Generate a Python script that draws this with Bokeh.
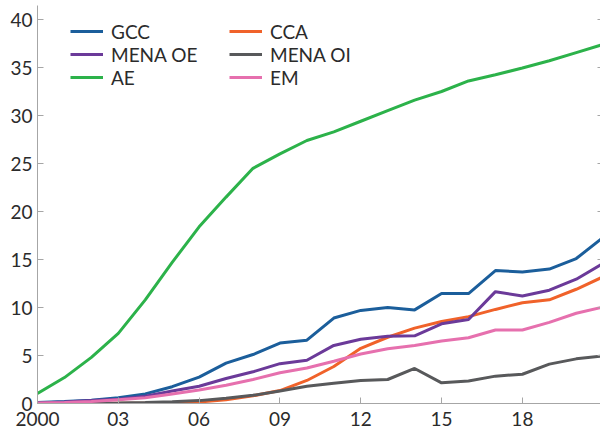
from bokeh.plotting import figure
from bokeh.models import Range1d, FixedTicker, LinearAxis, Legend, LegendItem
from bokeh.embed import file_html
from bokeh.resources import INLINE

years = list(range(2000, 2022))
gcc = [0.1, 0.2, 0.35, 0.6, 1.0, 1.75, 2.75, 4.2, 5.1, 6.3, 6.6, 8.9, 9.7, 10.0, 9.75, 11.45, 11.45, 13.85, 13.7, 14.0, 15.1, 17.3]
cca = [0.0, 0.0, 0.0, 0.02, 0.03, 0.05, 0.15, 0.4, 0.8, 1.35, 2.4, 3.85, 5.75, 6.9, 7.85, 8.55, 9.05, 9.8, 10.5, 10.8, 11.9, 13.2]
mena_oe = [0.05, 0.15, 0.3, 0.45, 0.75, 1.3, 1.8, 2.6, 3.3, 4.15, 4.5, 6.05, 6.7, 7.0, 7.05, 8.3, 8.75, 11.65, 11.2, 11.8, 12.95, 14.6]
mena_oi = [0.0, 0.0, 0.02, 0.05, 0.1, 0.18, 0.3, 0.55, 0.85, 1.3, 1.8, 2.1, 2.4, 2.5, 3.65, 2.15, 2.35, 2.85, 3.05, 4.1, 4.65, 4.95]
ae = [1.05, 2.7, 4.8, 7.3, 10.8, 14.7, 18.4, 21.5, 24.5, 26.0, 27.4, 28.3, 29.4, 30.5, 31.6, 32.5, 33.6, 34.25, 34.95, 35.7, 36.55, 37.4]
em = [0.05, 0.1, 0.2, 0.4, 0.6, 1.0, 1.4, 1.9, 2.5, 3.2, 3.7, 4.4, 5.15, 5.7, 6.05, 6.5, 6.85, 7.65, 7.65, 8.45, 9.4, 10.05]

series_names = ["GCC", "CCA", "MENA OE", "MENA OI", "AE", "EM"]
series_values = [gcc, cca, mena_oe, mena_oi, ae, em]
series_colors = ["#1b5e9b", "#f0622a", "#6b3a99", "#58595b", "#2cb24a", "#e670ae"]

x_ticks = [2000, 2003, 2006, 2009, 2012, 2015, 2018]
x_tick_labels = ["2000", "03", "06", "09", "12", "15", "18"]
y_ticks = [0, 5, 10, 15, 20, 25, 30, 35, 40]

FONT = "Lato"
TXT = "#2b2b2b"
AX = "#a6a6a6"

p = figure(width=600, height=434, output_backend="svg", toolbar_location=None,
           x_range=Range1d(2000, 2020.9), y_range=Range1d(0, 41.46),
           min_border_left=37, min_border_right=0, min_border_top=5, min_border_bottom=31)
p.outline_line_color = None
p.xgrid.visible = False
p.ygrid.visible = False

renderers = {}
for name, vals, col in zip(series_names, series_values, series_colors):
    renderers[name] = p.line(years, vals, line_color=col, line_width=3)

for ax in (p.xaxis[0], p.yaxis[0]):
    ax.axis_line_color = AX
    ax.major_tick_line_color = AX
    ax.major_tick_in = 6
    ax.major_tick_out = 0
    ax.minor_tick_in = 0
    ax.minor_tick_out = 0
    ax.minor_tick_line_color = None
    ax.axis_label_standoff = 0
    ax.major_label_text_font = FONT
    ax.major_label_text_font_size = "19px"
    ax.major_label_text_color = TXT

p.xaxis[0].ticker = FixedTicker(ticks=x_ticks)
p.xaxis[0].major_label_overrides = {t: l for t, l in zip(x_ticks, x_tick_labels)}
p.xaxis[0].major_label_standoff = 8
p.yaxis[0].ticker = FixedTicker(ticks=y_ticks)
p.yaxis[0].major_label_standoff = 5

right = LinearAxis(ticker=FixedTicker(ticks=y_ticks))
right.axis_line_color = None
right.major_tick_line_color = AX
right.major_tick_in = 3
right.major_tick_out = 0
right.minor_tick_in = 0
right.minor_tick_out = 0
right.minor_tick_line_color = None
right.axis_label_standoff = 0
right.major_label_standoff = 0
right.major_label_overrides = {t: "" for t in y_ticks}
p.add_layout(right, "right")

def make_legend(names, loc):
    lg = Legend(items=[LegendItem(label=n, renderers=[renderers[n]]) for n in names],
                location=loc, orientation="vertical")
    lg.border_line_color = None
    lg.background_fill_alpha = 0
    lg.label_text_font = FONT
    lg.label_text_font_size = "19px"
    lg.label_text_color = TXT
    lg.glyph_width = 33
    lg.glyph_height = 22
    lg.label_height = 22
    lg.label_standoff = 8
    lg.spacing = -2
    lg.padding = 0
    lg.margin = 0
    return lg

p.add_layout(make_legend(["GCC", "MENA OE", "AE"], (33, 314.5)), "center")
p.add_layout(make_legend(["CCA", "MENA OI", "EM"], (192, 314.5)), "center")

open("out.html", "w").write(file_html(p, INLINE))
